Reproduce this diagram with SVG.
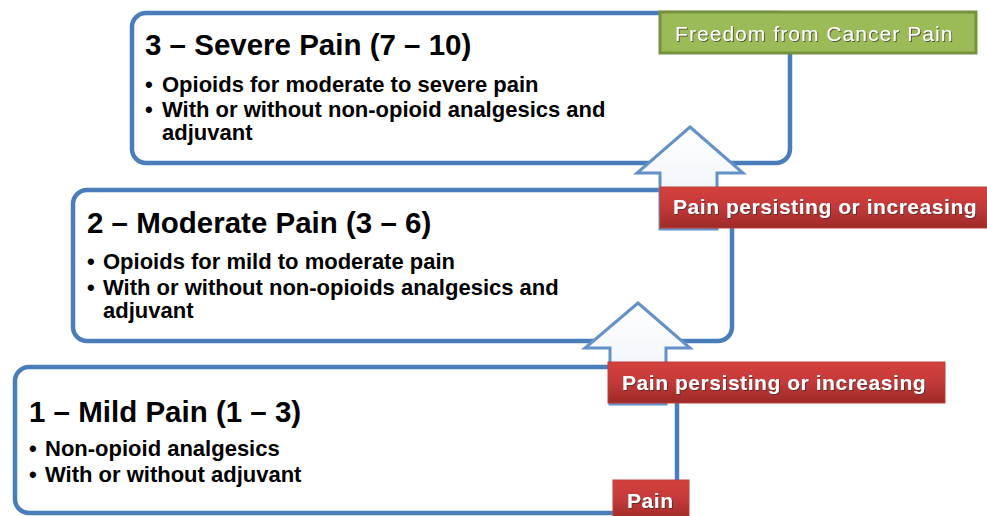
<svg xmlns="http://www.w3.org/2000/svg" width="987" height="516" viewBox="0 0 987 516">
<defs>
<style>
.box{fill:#ffffff;stroke:#4A7EBB;stroke-width:4.5}
.arrow{fill:url(#arrowFill);stroke:#6491C8;stroke-width:3;stroke-linejoin:miter}
.title{font-family:"Liberation Sans",Arial,sans-serif;font-weight:bold;font-size:29.5px;fill:#000}
.item{font-family:"Liberation Sans",Arial,sans-serif;font-weight:bold;font-size:22px;fill:#000}
.red{fill:url(#redFill);stroke:#B8413E;stroke-width:1}
.green{fill:#9BBB59;stroke:#76923C;stroke-width:3}
.lbl{font-family:"Liberation Sans",Arial,sans-serif;font-weight:bold;font-size:21px;fill:#fff;letter-spacing:0.55px;filter:url(#sh)}
.glbl{font-family:"Liberation Sans",Arial,sans-serif;font-size:21px;fill:#fff;letter-spacing:1.05px;filter:url(#sh)}
</style>
<linearGradient id="redFill" x1="0" y1="0" x2="0" y2="1">
<stop offset="0" stop-color="#D4413D"/>
<stop offset="0.5" stop-color="#C3393A"/>
<stop offset="1" stop-color="#9C2A27"/>
</linearGradient>
<linearGradient id="arrowFill" x1="0" y1="0" x2="0" y2="1">
<stop offset="0" stop-color="#FFFFFF"/>
<stop offset="1" stop-color="#EAF0F8"/>
</linearGradient>
<filter id="sh" x="-5%" y="-20%" width="110%" height="140%">
<feDropShadow dx="1" dy="1" stdDeviation="0.4" flood-color="#3A2A20" flood-opacity="0.7"/>
</filter>
</defs>

<g id="step1">
<rect class="box" x="15" y="367" width="662" height="146" rx="14"/>
<text class="title" x="29" y="422">1 – Mild Pain (1 – 3)</text>
<text class="item" x="29" y="456">• <tspan x="45">Non-opioid analgesics</tspan></text>
<text class="item" x="29" y="482">• <tspan x="45">With or without adjuvant</tspan></text>
</g>

<g id="step2">
<rect class="box" x="73" y="190" width="659" height="151" rx="14"/>
<text class="title" x="87" y="233">2 – Moderate Pain (3 – 6)</text>
<text class="item" x="87" y="269">• <tspan x="103">Opioids for mild to moderate pain</tspan></text>
<text class="item" x="87" y="295">• <tspan x="103">With or without non-opioids analgesics and</tspan></text>
<text class="item" x="103" y="318">adjuvant</text>
</g>

<g id="step3">
<rect class="box" x="132" y="13" width="658" height="150" rx="14"/>
<text class="title" x="145" y="55">3 – Severe Pain (7 – 10)</text>
<text class="item" x="145" y="92">• <tspan x="162">Opioids for moderate to severe pain</tspan></text>
<text class="item" x="145" y="117">• <tspan x="162">With or without non-opioid analgesics and</tspan></text>
<text class="item" x="162" y="140">adjuvant</text>
</g>

<g id="connectors">
<path id="arrow1" class="arrow" d="M638,303 L690,348 L666,348 L666,404 L610,404 L610,348 L585,348 Z"/>
<path id="arrow2" class="arrow" d="M690,127 L743,173 L717,173 L717,229 L660,229 L660,173 L637,173 Z"/>
</g>

<g id="label-pain">
<rect class="red" x="613" y="480" width="76" height="40"/>
<text class="lbl" x="627" y="508">Pain</text>
</g>

<g id="label-persist1">
<rect class="red" x="608" y="362" width="337" height="41"/>
<text class="lbl" x="622" y="390">Pain persisting or increasing</text>
</g>

<g id="label-persist2">
<rect class="red" x="660" y="187" width="327" height="41"/>
<text class="lbl" x="673" y="214">Pain persisting or increasing</text>
</g>

<g id="label-freedom">
<rect class="green" x="660" y="12" width="316" height="41"/>
<text class="glbl" x="675" y="41">Freedom from Cancer Pain</text>
</g>
</svg>
